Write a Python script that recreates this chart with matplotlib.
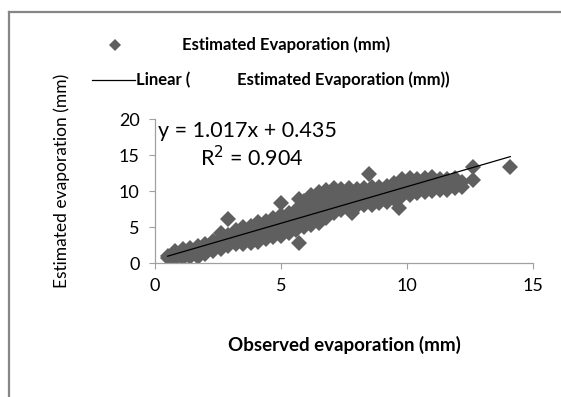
import numpy as np
import matplotlib.pyplot as plt
from matplotlib.lines import Line2D

# observed vs estimated daily evaporation (mm)
observed = [
    0.5, 0.5,
    0.8, 0.8, 0.8,
    1.1, 1.1, 1.1,
    1.4, 1.4, 1.4,
    1.7, 1.7, 1.7,
    2.0, 2.0, 2.0,
    2.3, 2.3, 2.3,
    2.6, 2.6, 2.6, 2.6,
    2.9, 2.9, 2.9, 2.9,
    3.2, 3.2, 3.2, 3.2,
    3.5, 3.5, 3.5, 3.5,
    3.8, 3.8, 3.8, 3.8,
    4.1, 4.1, 4.1, 4.1,
    4.4, 4.4, 4.4, 4.4,
    4.7, 4.7, 4.7, 4.7,
    5.0, 5.0, 5.0, 5.0, 5.0,
    5.3, 5.3, 5.3, 5.3,
    5.7, 5.6, 5.6, 5.6, 5.6, 5.7,
    5.9, 5.9, 5.9, 5.9, 5.9,
    6.2, 6.2, 6.2, 6.2, 6.2, 6.2,
    6.5, 6.5, 6.5, 6.5, 6.5, 6.5,
    6.8, 6.8, 6.8, 6.8, 6.8, 6.8,
    7.1, 7.1, 7.1, 7.1, 7.1, 7.1,
    7.4, 7.4, 7.4, 7.4, 7.4,
    7.8, 7.7, 7.7, 7.7, 7.7, 7.7,
    8.0, 8.0, 8.0, 8.0,
    8.3, 8.3, 8.3, 8.3,
    8.5,
    8.6, 8.6, 8.6, 8.6,
    8.9, 8.9, 8.9, 8.9,
    9.2, 9.2, 9.2, 9.2,
    9.5, 9.5, 9.5, 9.5,
    9.7,
    9.8, 9.8, 9.8, 9.8,
    10.1, 10.1, 10.1, 10.1,
    10.4, 10.4, 10.4, 10.4,
    10.7, 10.7, 10.7, 10.7,
    11.0, 11.0, 11.0, 11.0,
    11.3, 11.3, 11.3,
    11.6, 11.6, 11.6,
    11.9, 11.9, 11.9,
    12.2, 12.2,
    12.6, 12.6,
    14.1,
]
estimated = [
    0.7, 1.0,
    0.6, 1.2, 1.6,
    0.7, 1.3, 1.9,
    0.8, 1.4, 2.1,
    0.9, 1.6, 2.3,
    1.3, 2.0, 2.7,
    1.6, 2.4, 3.0,
    2.0, 2.8, 3.5, 4.1,
    2.4, 3.1, 3.9, 6.1,
    2.6, 3.4, 4.1, 4.6,
    2.7, 3.5, 4.3, 5.0,
    2.8, 3.6, 4.4, 5.2,
    2.9, 3.8, 4.7, 5.7,
    3.3, 4.1, 4.9, 5.9,
    3.6, 4.4, 5.2, 6.3,
    3.8, 4.6, 5.5, 6.6, 8.4,
    4.1, 5.0, 5.9, 6.9,
    2.8, 4.6, 5.5, 6.4, 7.3, 8.9,
    5.0, 5.9, 6.8, 7.7, 8.6,
    5.3, 6.1, 7.0, 7.9, 8.8, 9.5,
    5.6, 6.5, 7.4, 8.3, 9.1, 9.8,
    6.2, 7.0, 7.8, 8.6, 9.4, 10.1,
    7.0, 7.6, 8.4, 9.2, 9.9, 10.4,
    7.3, 8.0, 8.8, 9.6, 10.3,
    6.9, 7.7, 8.4, 9.2, 9.9, 10.4,
    7.9, 8.7, 9.5, 10.3,
    8.0, 8.8, 9.6, 10.4,
    12.4,
    8.1, 8.9, 9.7, 10.5,
    8.3, 9.1, 9.9, 10.6,
    8.5, 9.3, 10.1, 10.7,
    8.9, 9.7, 10.5, 11.1,
    7.7,
    9.3, 10.1, 10.9, 11.6,
    9.5, 10.3, 11.1, 11.8,
    9.7, 10.5, 11.2, 11.7,
    9.9, 10.6, 11.3, 11.8,
    10.0, 10.7, 11.4, 11.9,
    10.1, 10.8, 11.6,
    10.2, 11.0, 11.7,
    10.4, 11.1, 11.8,
    10.5, 11.2,
    11.5, 13.4,
    13.3,
]

# trendline reported by the spreadsheet
slope = 1.017
intercept = 0.435
r_squared = 0.904

x_ticks = [0, 5, 10, 15]
y_ticks = [0, 5, 10, 15, 20]

series_name = "Estimated Evaporation (mm)"
point_color = "#5f5f5f"

plt.rcParams["font.family"] = ["Lato", "DejaVu Sans"]

W, H = 561, 397
fig = plt.figure(figsize=(W / 100, H / 100), dpi=100)


def fx(px):
    return px / W


def fy(py):
    return 1 - py / H


# chart area border (left and top edges only fall inside the image)
fig.add_artist(Line2D([fx(9), fx(9)], [0, fy(12)], transform=fig.transFigure,
                      color="#868686", linewidth=1.6))
fig.add_artist(Line2D([fx(9), 1], [fy(12), fy(12)], transform=fig.transFigure,
                      color="#868686", linewidth=1.6))

ax = fig.add_axes([fx(155), fy(263), 378 / W, 144 / H])
ax.plot(observed, estimated, linestyle="none", marker="D", markersize=8,
        color=point_color, markeredgewidth=0)

fit_x = np.array([min(observed), max(observed)])
ax.plot(fit_x, slope * fit_x + intercept, color="black", linewidth=0.9)

ax.set_xlim(0, 15)
ax.set_ylim(0, 20)
ax.set_xticks(x_ticks)
ax.set_yticks(y_ticks)
ax.tick_params(labelsize=13, length=4, width=0.8, color="#a0a0a0", pad=7)
for side in ("top", "right"):
    ax.spines[side].set_visible(False)
for side in ("left", "bottom"):
    ax.spines[side].set_color("#a0a0a0")
    ax.spines[side].set_linewidth(0.9)

ax.text(0.1, 18.3, f"y = {slope:.3f}x + {intercept:.3f}", fontsize=15.5, va="center")
ax.text(1.8, 14.6, f"R$^2$ = {r_squared:.3f}", fontsize=15.5, va="center")

ax.set_xlabel("Observed evaporation (mm)", fontsize=13.5, fontweight="bold", labelpad=30)
fig.text(fx(62), fy(181), "Estimated evaporation (mm)", rotation=90,
         fontsize=12.5, ha="center", va="center")

# legend entries above the plot
fig.add_artist(Line2D([fx(115)], [fy(45)], transform=fig.transFigure, marker="D",
                      markersize=6, color=point_color, markeredgewidth=0))
fig.text(fx(182), fy(45), series_name, fontsize=12, fontweight="bold", va="center")
fig.add_artist(Line2D([fx(92), fx(135)], [fy(80), fy(80)], transform=fig.transFigure,
                      color="black", linewidth=0.9))
fig.text(fx(136), fy(80), "Linear (", fontsize=12, fontweight="bold", va="center")
fig.text(fx(237), fy(80), series_name + ")", fontsize=12, fontweight="bold", va="center")

fig.savefig("out.png", dpi=100)
